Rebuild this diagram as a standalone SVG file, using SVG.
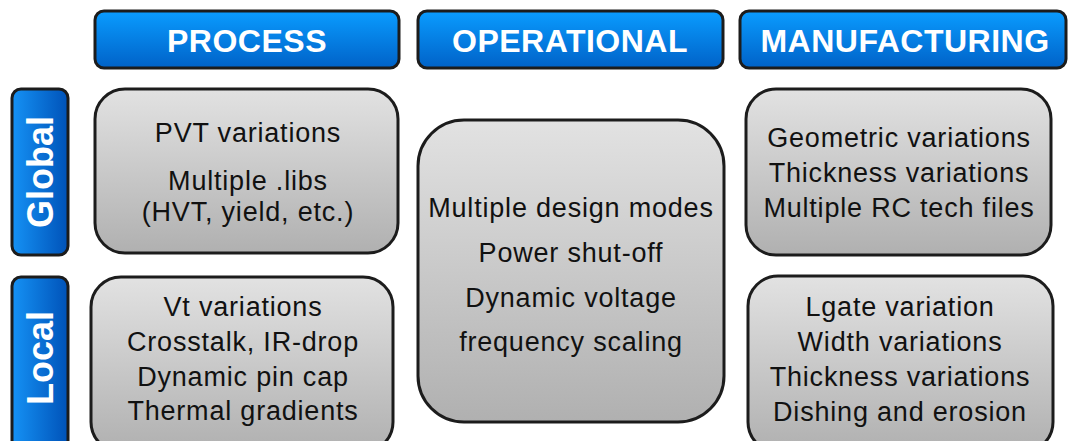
<svg xmlns="http://www.w3.org/2000/svg" width="1068" height="441" viewBox="0 0 1068 441">
<defs>
<linearGradient id="hdr" x1="0" y1="0" x2="0" y2="1">
<stop offset="0" stop-color="#0a9cff"/>
<stop offset="1" stop-color="#0062c8"/>
</linearGradient>
<linearGradient id="side" x1="0" y1="0" x2="1" y2="0">
<stop offset="0" stop-color="#1592f5"/>
<stop offset="1" stop-color="#0052b8"/>
</linearGradient>
<linearGradient id="gray" x1="0" y1="0" x2="0" y2="1">
<stop offset="0" stop-color="#e2e2e2"/>
<stop offset="1" stop-color="#b0b0b0"/>
</linearGradient>
<style>
.hdr{fill:url(#hdr);stroke:#1c1c1c;stroke-width:3}
.side{fill:url(#side);stroke:#1c1c1c;stroke-width:3}
.box{fill:url(#gray);stroke:#1c1c1c;stroke-width:3}
.ht{font-family:"Liberation Sans",Arial,sans-serif;font-weight:bold;font-size:32px;fill:#fff;text-anchor:middle;letter-spacing:0.5px}
.st{font-family:"Liberation Sans",Arial,sans-serif;font-weight:bold;font-size:36px;fill:#fff;text-anchor:middle}
.bt{font-family:"Liberation Sans",Arial,sans-serif;font-size:27px;fill:#111;text-anchor:middle;letter-spacing:0.8px}
</style>
</defs>
<rect width="1068" height="441" fill="#fff"/>
<g id="hdr-process"><rect class="hdr" x="95" y="11" width="304" height="57" rx="9"/><text class="ht" x="247" y="52">PROCESS</text></g>
<g id="hdr-operational"><rect class="hdr" x="418" y="11" width="305" height="57" rx="9"/><text class="ht" x="570" y="52">OPERATIONAL</text></g>
<g id="hdr-manufacturing"><rect class="hdr" x="740" y="11" width="326" height="57" rx="9"/><text class="ht" x="905" y="52">MANUFACTURING</text></g>
<g id="side-global"><rect class="side" x="12" y="89" width="56" height="166" rx="9"/><text class="st" transform="translate(53,172) rotate(-90)">Global</text></g>
<g id="side-local"><rect class="side" x="12" y="277" width="56" height="175" rx="9"/><text class="st" transform="translate(53,358) rotate(-90)">Local</text></g>
<g id="process-global"><rect class="box" x="95" y="89" width="303" height="164" rx="30"/>
<text class="bt" x="248" y="142">PVT variations</text>
<text class="bt" x="248" y="190">Multiple .libs</text>
<text class="bt" x="248" y="221">(HVT, yield, etc.)</text></g>
<g id="process-local"><rect class="box" x="91" y="277" width="302" height="175" rx="30"/>
<text class="bt" x="243" y="316">Vt variations</text>
<text class="bt" x="243" y="351">Crosstalk, IR-drop</text>
<text class="bt" x="243" y="386">Dynamic pin cap</text>
<text class="bt" x="243" y="420">Thermal gradients</text></g>
<g id="operational"><rect class="box" x="418" y="120" width="306" height="302" rx="46"/>
<text class="bt" x="571" y="217">Multiple design modes</text>
<text class="bt" x="571" y="262">Power shut-off</text>
<text class="bt" x="571" y="307">Dynamic voltage</text>
<text class="bt" x="571" y="351">frequency scaling</text></g>
<g id="manufacturing-global"><rect class="box" x="746" y="89" width="305" height="166" rx="30"/>
<text class="bt" x="899" y="147">Geometric variations</text>
<text class="bt" x="899" y="182">Thickness variations</text>
<text class="bt" x="899" y="217">Multiple RC tech files</text></g>
<g id="manufacturing-local"><rect class="box" x="748" y="276" width="305" height="176" rx="30"/>
<text class="bt" x="900" y="316">Lgate variation</text>
<text class="bt" x="900" y="351">Width variations</text>
<text class="bt" x="900" y="386">Thickness variations</text>
<text class="bt" x="900" y="421">Dishing and erosion</text></g>
<g id="connectors"/>
</svg>
